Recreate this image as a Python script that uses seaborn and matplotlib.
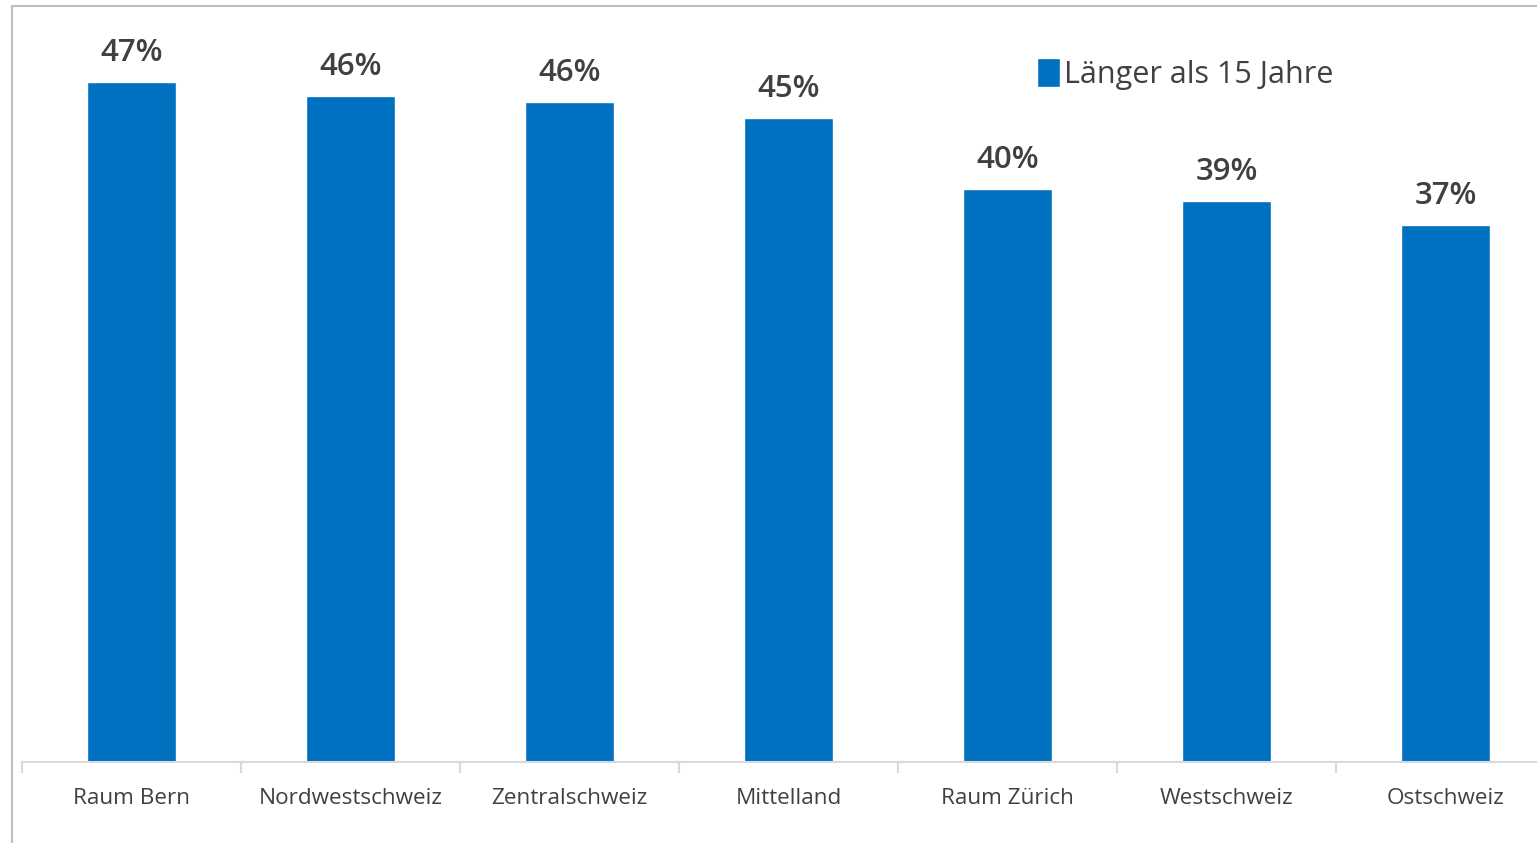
import matplotlib.pyplot as plt
import pandas as pd
import seaborn as sns
import numpy as np

# Data
regions = ['Raum Bern', 'Nordwestschweiz', 'Zentralschweiz', 'Mittelland',
           'Raum Zürich', 'Westschweiz', 'Ostschweiz']
values = [47.0, 46.0, 45.6, 44.5, 39.6, 38.8, 37.1]
value_labels = ['47%', '46%', '46%', '45%', '40%', '39%', '37%']
series_name = 'Länger als 15 Jahre'

bar_color = '#0070C0'
text_color = '#404040'

sns.set_theme(style='white')
plt.rcParams['font.family'] = ['Open Sans', 'DejaVu Sans']

df = pd.DataFrame({'region': regions, 'value': values})

W, H = 1537, 843
fig = plt.figure(figsize=(W / 100, H / 100), dpi=100)
# axes spans beyond the right edge, as in the reference (cropped)
ax = fig.add_axes([22 / W, 81 / H, 1533 / W, 732 / H])

sns.barplot(data=df, x='region', y='value', color=bar_color, saturation=1,
            width=0.41, ax=ax, label=series_name)

ax.set_xlim(-0.5, len(regions) - 0.5)
ax.set_ylim(0, 732 / 14.47)
ax.set_xlabel('')
ax.set_ylabel('')
ax.set_yticks([])

for s in ['top', 'right', 'left']:
    ax.spines[s].set_visible(False)
ax.spines['bottom'].set_color('#d9d9d9')
ax.spines['bottom'].set_linewidth(1.5)

# category separators as minor ticks
ax.set_xticks(np.arange(-0.5, len(regions), 1.0), minor=True)
ax.tick_params(axis='x', which='minor', length=8, width=1.5, color='#d9d9d9', bottom=True)
ax.tick_params(axis='x', which='major', length=0, pad=19, labelsize=16.2, labelcolor=text_color)

for i, (v, lab) in enumerate(zip(values, value_labels)):
    ax.annotate(lab, (i, v), xytext=(0, 10), textcoords='offset points',
                ha='center', va='bottom', fontsize=22.5, fontweight='semibold',
                color=text_color)

leg = ax.legend(loc='upper left', bbox_to_anchor=(1025 / W, 1 - 46 / H),
                bbox_transform=fig.transFigure, frameon=False,
                fontsize=22, handlelength=0.75, handleheight=1.05,
                handletextpad=0.12, borderaxespad=0)
for t in leg.get_texts():
    t.set_color(text_color)

# outer chart frame (left and top)
fig.add_artist(plt.Line2D([12 / W, 12 / W], [0, 1 - 6 / H], transform=fig.transFigure,
                          color='#bfbfbf', linewidth=1.5))
fig.add_artist(plt.Line2D([12 / W, 1], [1 - 6 / H, 1 - 6 / H], transform=fig.transFigure,
                          color='#bfbfbf', linewidth=1.5))

fig.savefig('out.png', dpi=100)
